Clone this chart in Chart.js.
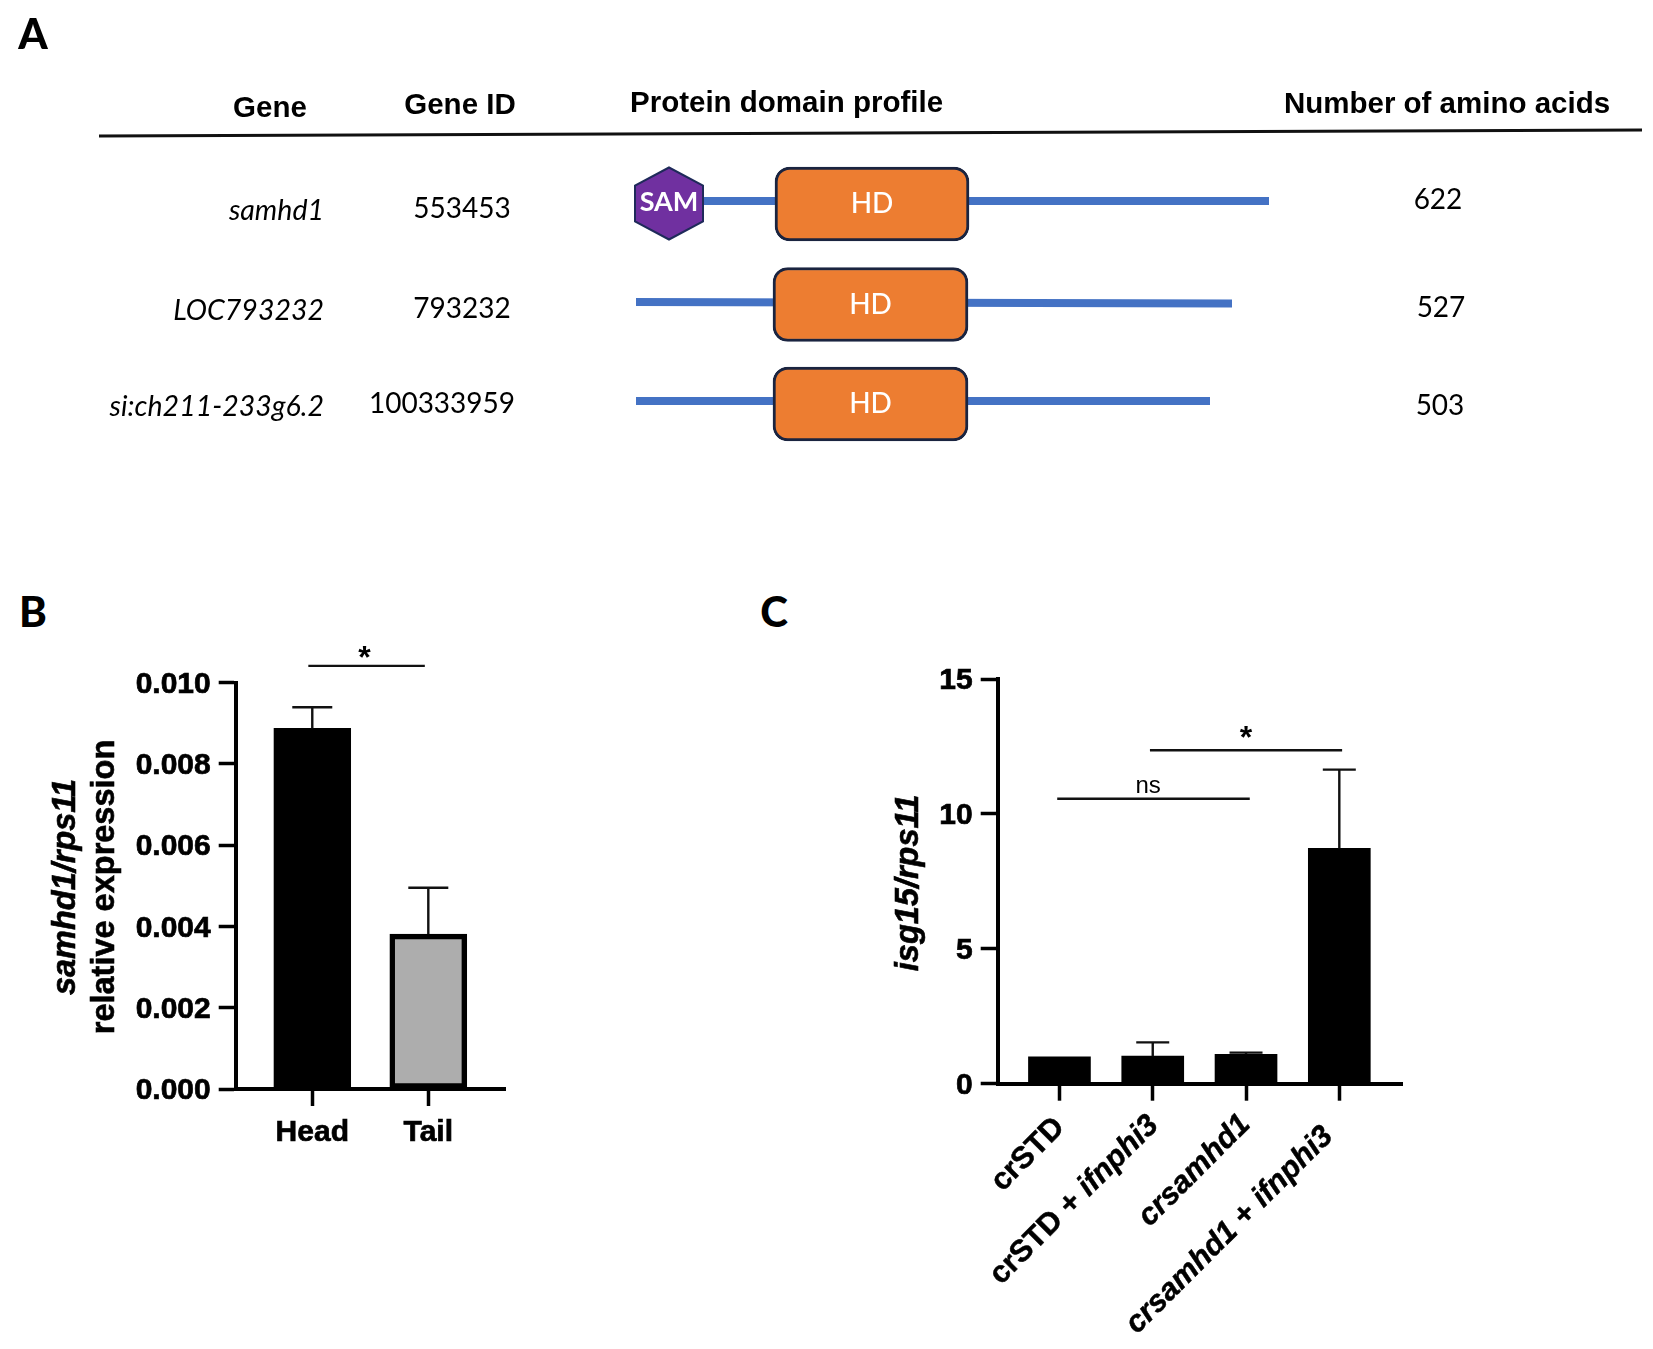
<!DOCTYPE html>
<html>
<head>
<meta charset="utf-8">
<script src="https://cdn.jsdelivr.net/npm/chart.js@4/dist/chart.umd.js"></script>
<style>
html,body{margin:0;padding:0;background:#fff;width:1653px;height:1349px;overflow:hidden}
.w{position:absolute}
.t{position:absolute;white-space:nowrap;color:#000;transform:translate(-50%,-50%);line-height:1}
.r{transform:translate(-100%,-50%)}
.l{transform:translate(0,-50%)}
.h{font:700 29.5px "Liberation Sans",Arial,sans-serif}
.b{font:400 28px Lato,sans-serif}
.i{font:italic 400 28.5px Lato,sans-serif}
.p{font:900 42px Lato,sans-serif}
</style>
</head>
<body>
<div class="w" style="left:0;top:0;width:1653px;height:500px"><canvas id="a" width="1653" height="500"></canvas></div>
<div class="w" style="left:0;top:640px;width:560px;height:520px"><canvas id="b" width="560" height="520"></canvas></div>
<div class="w" style="left:880px;top:640px;width:560px;height:709px"><canvas id="c" width="560" height="709"></canvas></div>
<script>
/* ---------- Panel A data ---------- */
const genes = ["samhd1", "LOC793232", "si:ch211-233g6.2"];
const geneIds = ["553453", "793232", "100333959"];
const aminoAcids = ["622", "527", "503"];
const headers = ["Gene", "Gene ID", "Protein domain profile", "Number of amino acids"];
const panelLetters = ["A", "B", "C"];
const domainRows = [1, 2.005, 3];
const backboneRows = [0.97, 1.98, 2.97];
const backboneEndRows = [0.97, 1.995, 2.97];
const backboneStart = [669, 636, 636];
const backboneEnd = [1269, 1232, 1210];
const hdStart = [775, 773, 773];
const hdEnd = [969, 968, 968];
const samCenter = [669];
const samRow = [0.995];

/* ---------- Panel B data ---------- */
const tissues = ["Head", "Tail"];
const samhd1Values = [0.00887, 0.00381];
const samhd1Upper = [0.00939, 0.00495];
const bTicks = [0, 0.002, 0.004, 0.006, 0.008, 0.010];

/* ---------- Panel C data ---------- */
const treatments = [
  [["crSTD", false]],
  [["crSTD", false], [" + ", false], ["ifnphi3", true]],
  [["crsamhd1", true]],
  [["crsamhd1", true], [" + ", false], ["ifnphi3", true]]
];
const isg15Values = [1.0, 1.02, 1.09, 8.72];
const isg15Upper = [1.0, 1.53, 1.15, 11.64];
const cTicks = [0, 5, 10, 15];

const SANS = '"Liberation Sans", Arial, sans-serif';
const BLACK = '#000';
const labelDx = [0.5, 1, -0.5, -11];
const labelDy = [39, 37, 36, 48];

/* ---------- Page text of panel A ---------- */
function put(text, x, y, cls, extra) {
  const d = document.createElement('div');
  d.className = 't ' + cls;
  d.textContent = text;
  d.style.left = x + 'px';
  d.style.top = y + 'px';
  if (extra) d.style.cssText += extra;
  document.body.appendChild(d);
}
[[270, 107], [460, 104], [630, 102, 'l'], [1447, 103]].forEach((p, i) =>
  put(headers[i], p[0], p[1], 'h ' + (p[2] || '')));
[209, 309, 405].forEach((y, i) => put(genes[i], 324, y, 'i r'));
[[462, 207], [462, 307], [442, 402]].forEach((p, i) => put(geneIds[i], p[0], p[1], 'b'));
[[1438, 198], [1441, 306], [1440, 404]].forEach((p, i) => put(aminoAcids[i], p[0], p[1], 'b'));
[[33, 33], [33, 611], [774, 611]].forEach((p, i) => put(panelLetters[i], p[0], p[1], 'p'));

/* ---------- Panel A chart ---------- */
const domainPlugin = {
  id: 'domainPlugin',
  afterDatasetsDraw(chart) {
    const { ctx, scales: { x, y } } = chart;
    ctx.save();
    ctx.fillStyle = '#fff';
    ctx.textAlign = 'center';
    ctx.textBaseline = 'middle';
    ctx.font = '500 28px Lato, sans-serif';
    domainRows.forEach((r, i) => {
      ctx.fillText('HD', x.getPixelForValue((hdStart[i] + hdEnd[i]) / 2), y.getPixelForValue(r));
    });
    samCenter.forEach((c, i) => {
      const cx = x.getPixelForValue(c), cy = y.getPixelForValue(samRow[i]);
      const w = 34, h = 36;
      ctx.beginPath();
      ctx.moveTo(cx, cy - h);
      ctx.lineTo(cx + w, cy - h / 2);
      ctx.lineTo(cx + w, cy + h / 2);
      ctx.lineTo(cx, cy + h);
      ctx.lineTo(cx - w, cy + h / 2);
      ctx.lineTo(cx - w, cy - h / 2);
      ctx.closePath();
      ctx.fillStyle = '#7030a0';
      ctx.fill();
      ctx.lineWidth = 2;
      ctx.strokeStyle = '#1f2a5a';
      ctx.stroke();
      ctx.fillStyle = '#fff';
      ctx.font = '700 27px Lato, sans-serif';
      ctx.fillText('SAM', cx, cy - 1);
    });
    ctx.restore();
  }
};
new Chart(document.getElementById('a'), {
  type: 'bar',
  data: {
    datasets: [
      {
        label: 'HD domain', indexAxis: 'y', order: 0,
        data: domainRows.map((r, i) => ({ x: [hdStart[i], hdEnd[i]], y: r })),
        backgroundColor: '#ed7d31', borderColor: '#1a2440', borderWidth: 3,
        borderRadius: 15, borderSkipped: false, barThickness: 74
      },
      ...genes.map((g, i) => ({
        type: 'line', label: g, order: 1, pointRadius: 0, borderColor: '#4472c4', borderWidth: 8,
        data: [{ x: backboneStart[i], y: backboneRows[i] }, { x: backboneEnd[i], y: backboneEndRows[i] }]
      })),
      {
        type: 'line', label: 'rule', order: 2, pointRadius: 0, borderColor: '#111', borderWidth: 3,
        data: [{ x: 99, y: 0.32 }, { x: 1642, y: 0.26 }]
      }
    ]
  },
  options: {
    responsive: false, animation: false,
    layout: { padding: 0 },
    plugins: { legend: { display: false }, tooltip: { enabled: false } },
    scales: {
      x: { type: 'linear', min: 0, max: 1653, display: false, offset: false, grid: { offset: false } },
      y: { type: 'linear', min: -1.04, max: 3.96, reverse: true, display: false, offset: false }
    }
  },
  plugins: [domainPlugin]
});

/* ---------- Shared helpers for B and C ---------- */
function drawSegments(ctx, segs, size, anchor, stroke) {
  let total = 0;
  segs.forEach(s => {
    ctx.font = (s[1] ? 'italic ' : '') + '700 ' + size + 'px ' + SANS;
    total += ctx.measureText(s[0]).width;
  });
  let x = anchor === 'right' ? -total : -total / 2;
  ctx.textAlign = 'left';
  ctx.lineWidth = stroke;
  ctx.strokeStyle = BLACK;
  segs.forEach(s => {
    ctx.font = (s[1] ? 'italic ' : '') + '700 ' + size + 'px ' + SANS;
    ctx.fillText(s[0], x, 0);
    if (stroke) ctx.strokeText(s[0], x, 0);
    x += ctx.measureText(s[0]).width;
  });
}
function annotate(cfg) {
  return {
    id: 'annotate',
    afterDatasetsDraw(chart) {
      const { ctx, chartArea, scales: { x, y } } = chart;
      ctx.save();
      ctx.strokeStyle = '#111';
      ctx.lineWidth = 2.4;
      cfg.upper.forEach((u, i) => {
        if (u <= cfg.values[i]) return;
        const px = x.getPixelForValue(i + 1);
        ctx.beginPath();
        ctx.moveTo(px, y.getPixelForValue(cfg.values[i]));
        ctx.lineTo(px, y.getPixelForValue(u));
        ctx.moveTo(px - cfg.cap, y.getPixelForValue(u));
        ctx.lineTo(px + cfg.cap, y.getPixelForValue(u));
        ctx.stroke();
      });
      ctx.fillStyle = BLACK;
      ctx.textBaseline = 'middle';
      cfg.sig.forEach(s => {
        const py = y.getPixelForValue(s.y);
        ctx.beginPath();
        ctx.moveTo(x.getPixelForValue(s.x1), py);
        ctx.lineTo(x.getPixelForValue(s.x2), py);
        ctx.stroke();
        ctx.textAlign = 'center';
        ctx.font = s.text === '*' ? '700 32px ' + SANS : '400 24px ' + SANS;
        ctx.fillText(s.text, x.getPixelForValue(s.tx), py + s.dy);
      });
      ctx.textBaseline = 'middle';
      cfg.title.forEach(l => {
        ctx.save();
        ctx.translate(l.x, l.y);
        ctx.rotate(-Math.PI / 2);
        drawSegments(ctx, l.segs, l.size, 'center', 0.6);
        ctx.restore();
      });
      if (cfg.rotated) {
        x.getTicks().forEach((t, i) => {
          ctx.save();
          ctx.translate(x.getPixelForTick(i) + labelDx[i], chartArea.bottom + labelDy[i]);
          ctx.rotate(-Math.PI / 4);
          ctx.textBaseline = 'middle';
          drawSegments(ctx, cfg.rotated[i], 30.5, 'right', 0.5);
          ctx.restore();
        });
      }
      ctx.restore();
    }
  };
}
function barChart(id, o) {
  return new Chart(document.getElementById(id), {
    type: 'bar',
    data: {
      datasets: [{
        data: o.values.map((v, i) => ({ x: i + 1, y: v })),
        backgroundColor: o.fill, borderColor: BLACK, borderWidth: o.border,
        borderSkipped: false, barThickness: o.bar
      }]
    },
    options: {
      responsive: false, animation: false,
      layout: { padding: { top: o.top, right: o.right, left: 0, bottom: 0 } },
      plugins: { legend: { display: false }, tooltip: { enabled: false } },
      scales: {
        x: {
          type: 'linear', min: o.xMin, max: o.xMax, offset: false,
          afterFit(s) { s.height = o.xHeight; },
          afterBuildTicks(s) { s.ticks = o.values.map((v, i) => ({ value: i + 1 })); },
          border: { color: BLACK, width: 4 },
          grid: { offset: false, drawOnChartArea: false, drawTicks: true, tickLength: 17, tickWidth: 3.5, tickColor: BLACK, color: BLACK },
          ticks: {
            display: o.xLabels !== null, autoSkip: false, maxRotation: 0, minRotation: 0, padding: 9, color: BLACK,
            textStrokeColor: BLACK, textStrokeWidth: 0.7,
            font: { family: SANS, weight: 700, size: 30 },
            callback: v => (o.xLabels ? o.xLabels[v - 1] : '')
          }
        },
        y: {
          min: 0, max: o.yMax,
          afterFit(s) { s.width = o.yWidth; },
          afterBuildTicks(s) { s.ticks = o.yTicks.map(v => ({ value: v })); },
          border: { color: BLACK, width: 4 },
          grid: { drawOnChartArea: false, drawTicks: true, tickLength: 17, tickWidth: 3.5, tickColor: BLACK, color: BLACK },
          ticks: {
            padding: 8, color: BLACK, labelOffset: 2,
            textStrokeColor: BLACK, textStrokeWidth: 0.7,
            font: { family: SANS, weight: 700, size: 30 },
            callback: o.yFormat
          }
        }
      }
    },
    plugins: [annotate(o.notes)]
  });
}

/* ---------- Panel B ---------- */
barChart('b', {
  values: samhd1Values, fill: ['#000', '#adadad'], border: 5.5, bar: 77,
  top: 42.5, right: 54.3, xHeight: 71, yWidth: 235.7, yMax: 0.010, yTicks: bTicks,
  xMin: 0.34, xMax: 2.667, xLabels: tissues,
  yFormat: v => v.toFixed(3),
  notes: {
    values: samhd1Values, upper: samhd1Upper, cap: 20,
    sig: [{ x1: 0.966, x2: 1.97, y: 0.01041, text: '*', tx: 1.45, dy: -7 }],
    title: [
      { x: 66, y: 247, size: 32.5, segs: [['samhd1/rps11', true]] },
      { x: 105, y: 247, size: 32.5, segs: [['relative expression', false]] }
    ]
  }
});

/* ---------- Panel C ---------- */
barChart('c', {
  values: isg15Values, fill: '#000', border: 0, bar: 62,
  top: 39, right: 38, xHeight: 265.3, yWidth: 117.7, yMax: 15, yTicks: cTicks,
  xMin: 0.338, xMax: 4.672, xLabels: null,
  yFormat: v => String(v),
  notes: {
    values: isg15Values, upper: isg15Upper, cap: 16.5,
    sig: [
      { x1: 1.97, x2: 4.03, y: 12.36, text: '*', tx: 3.0, dy: -11 },
      { x1: 0.976, x2: 3.04, y: 10.56, text: 'ns', tx: 1.95, dy: -12 }
    ],
    title: [{ x: 29, y: 243, size: 32.5, segs: [['isg15/rps11', true]] }],
    rotated: treatments
  }
});
</script>
</body>
</html>
